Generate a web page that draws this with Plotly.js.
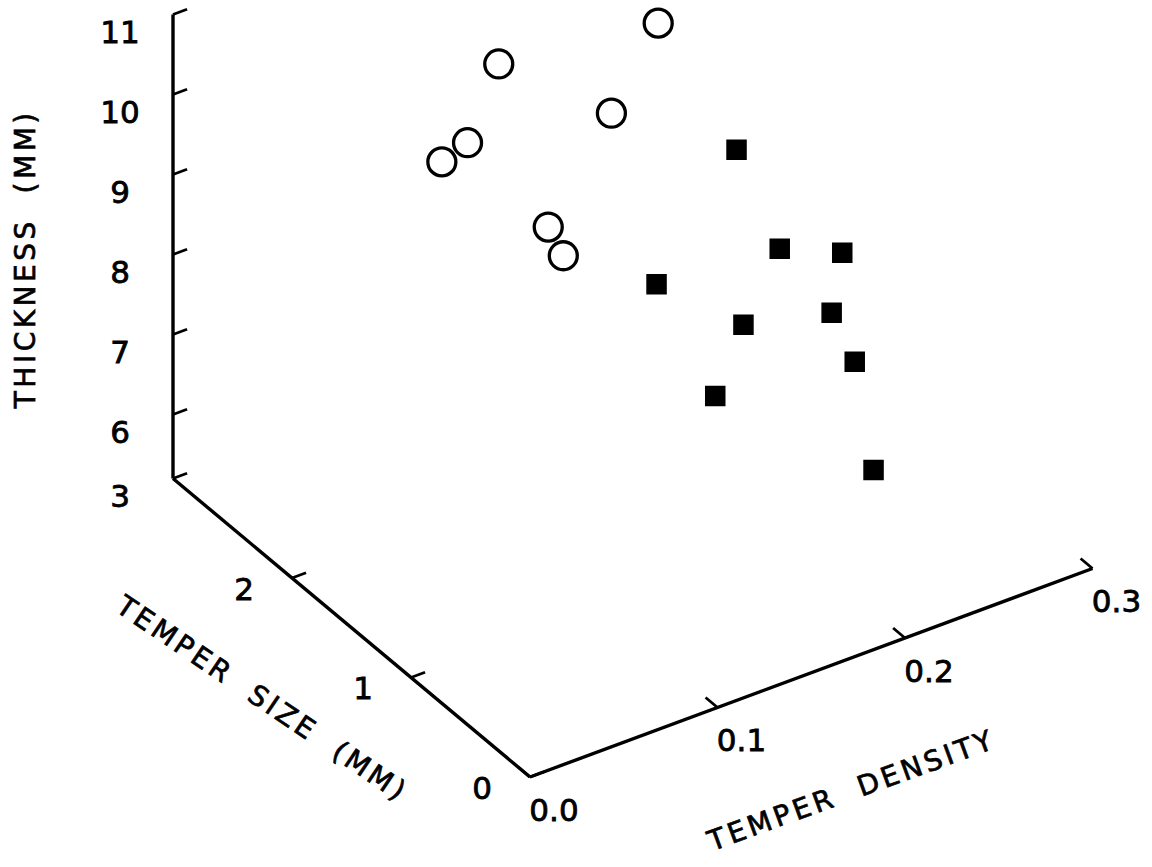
<!DOCTYPE html>
<html>
<head>
<meta charset="utf-8">
<script src="https://cdn.plot.ly/plotly-3.0.1.min.js"></script>
<style>
  html, body { margin: 0; padding: 0; background: #ffffff; }
  #chart { width: 1152px; height: 867px; }
  g.annotation text { letter-spacing: 3.5px; stroke: #000; stroke-width: 0.7px; }
  g.textpoint text { stroke: #000; stroke-width: 0.8px; }
</style>
</head>
<body>
<div id="chart"></div>
<script>
// ---------------- data ----------------
// open circles
const circleDensity   = [0.208, 0.142, 0.164, 0.119, 0.118, 0.143, 0.132];
const circleSize      = [2.2, 2.5, 1.9, 2.4, 2.6, 2.1, 1.8];
const circleThickness = [10.08, 9.77, 9.71, 9.11, 8.63, 8.22, 8.33];
// filled squares
const squareDensity   = [0.199, 0.203, 0.230, 0.150, 0.190, 0.218, 0.243, 0.194, 0.234];
const squareSize      = [1.4, 1.1, 1.0, 1.3, 1.2, 0.9, 1.1, 1.5, 0.8];
const squareThickness = [9.57, 8.67, 8.51, 8.44, 7.71, 7.99, 6.91, 6.41, 6.01];

// axes
const densityRange   = [0, 0.3];
const sizeRange      = [0, 3];
const thicknessRange = [5.2, 11];   // broken axis: base labelled "3"
const densityTicks      = [0, 0.1, 0.2, 0.3];
const densityTickText   = ['0.0', '0.1', '0.2', '0.3'];
const sizeTicks         = [0, 1, 2];
const sizeTickText      = ['0', '1', '2'];
const thicknessTicks    = [5.2, 6, 7, 8, 9, 10, 11];
const thicknessTickText = ['3', '6', '7', '8', '9', '10', '11'];

const titles = {
  thickness: 'THICKNESS  (MM)',
  size: 'TEMPER  SIZE  (MM)',
  density: 'TEMPER  DENSITY'
};

// ---------------- oblique projection (layout) ----------------
const VIEW = {
  origin: [530, 777],      // pixel of (density 0, size 0, thickness base)
  d: [1875, -695],         // pixels per unit density
  s: [-119, -99.5],        // pixels per unit size
  t: [0, -80]              // pixels per unit thickness
};
function proj(d, s, t) {
  const dt = t - thicknessRange[0];
  return [
    VIEW.origin[0] + d * VIEW.d[0] + s * VIEW.s[0] + dt * VIEW.t[0],
    VIEW.origin[1] + d * VIEW.d[1] + s * VIEW.s[1] + dt * VIEW.t[1]
  ];
}
function projMany(D, S, T) {
  const xs = [], ys = [];
  for (let i = 0; i < D.length; i++) {
    const p = proj(D[i], S[i], T[i]);
    xs.push(p[0]); ys.push(p[1]);
  }
  return {x: xs, y: ys};
}

const FONT = 'DejaVu Sans, Liberation Sans, Arial, sans-serif';
const tickLenD = 0.0075;   // tick length along density (for thickness & size axes)
const tickLenS = 0.1;      // tick length along size (for density axis)

const d0 = densityRange[0], s0 = sizeRange[0], t0 = thicknessRange[0];
const sMax = sizeRange[1];

// axis lines
const axisX = [], axisY = [];
function seg(a, b) {
  axisX.push(a[0], b[0], null);
  axisY.push(a[1], b[1], null);
}
seg(proj(d0, sMax, thicknessRange[0]), proj(d0, sMax, thicknessRange[1]));  // thickness
seg(proj(d0, sMax, t0), proj(d0, s0, t0));                                  // size
seg(proj(d0, s0, t0), proj(densityRange[1], s0, t0));                       // density

// ticks
const tickX = [], tickY = [];
function tseg(a, b) { tickX.push(a[0], b[0], null); tickY.push(a[1], b[1], null); }
thicknessTicks.forEach(v => tseg(proj(d0, sMax, v), proj(d0 + tickLenD, sMax, v)));
sizeTicks.forEach(v => tseg(proj(d0, v, t0), proj(d0 + tickLenD, v, t0)));
densityTicks.forEach(v => tseg(proj(v, s0, t0), proj(v, s0 + tickLenS, t0)));

// tick labels (pixel offsets from tick position)
const LABEL_OFF = {thickness: [-53, 21], size: [-48, 14], density: [24, 36]};
const lblX = [], lblY = [], lblT = [];
thicknessTicks.forEach((v, i) => {
  const p = proj(d0, sMax, v);
  lblX.push(p[0] + LABEL_OFF.thickness[0]); lblY.push(p[1] + LABEL_OFF.thickness[1]); lblT.push(thicknessTickText[i]);
});
sizeTicks.forEach((v, i) => {
  const p = proj(d0, v, t0);
  lblX.push(p[0] + LABEL_OFF.size[0]); lblY.push(p[1] + LABEL_OFF.size[1]); lblT.push(sizeTickText[i]);
});
densityTicks.forEach((v, i) => {
  const p = proj(v, s0, t0);
  lblX.push(p[0] + LABEL_OFF.density[0]); lblY.push(p[1] + LABEL_OFF.density[1]); lblT.push(densityTickText[i]);
});

const circ = projMany(circleDensity, circleSize, circleThickness);
const sq = projMany(squareDensity, squareSize, squareThickness);

const traces = [
  {x: axisX, y: axisY, mode: 'lines', line: {color: '#000', width: 3.4}, hoverinfo: 'skip', showlegend: false},
  {x: tickX, y: tickY, mode: 'lines', line: {color: '#000', width: 2.8}, hoverinfo: 'skip', showlegend: false},
  {x: lblX, y: lblY, text: lblT, mode: 'text', textposition: 'middle center',
   textfont: {family: FONT, size: 31, color: '#000'}, hoverinfo: 'skip', showlegend: false, cliponaxis: false},
  {x: circ.x, y: circ.y, mode: 'markers', name: 'circles',
   marker: {symbol: 'circle-open', size: 28, color: '#000', line: {width: 3.3, color: '#000'}},
   showlegend: false, cliponaxis: false,
   customdata: circleDensity.map((d, i) => [d, circleSize[i], circleThickness[i]]),
   hovertemplate: 'density %{customdata[0]}<br>size %{customdata[1]}<br>thickness %{customdata[2]}<extra></extra>'},
  {x: sq.x, y: sq.y, mode: 'markers', name: 'squares',
   marker: {symbol: 'square', size: 19, color: '#000', line: {width: 1.5, color: '#000'}},
   showlegend: false, cliponaxis: false,
   customdata: squareDensity.map((d, i) => [d, squareSize[i], squareThickness[i]]),
   hovertemplate: 'density %{customdata[0]}<br>size %{customdata[1]}<br>thickness %{customdata[2]}<extra></extra>'}
];

const layout = {
  width: 1152, height: 867,
  margin: {l: 0, r: 0, t: 0, b: 0, pad: 0},
  paper_bgcolor: '#ffffff', plot_bgcolor: '#ffffff',
  xaxis: {range: [0, 1152], visible: false, fixedrange: true},
  yaxis: {range: [867, 0], visible: false, fixedrange: true},
  showlegend: false,
  annotations: [
    {text: titles.thickness, x: 25, y: 260, xref: 'x', yref: 'y', showarrow: false, textangle: -90,
     font: {family: FONT, size: 28, color: '#000'}},
    {text: titles.size, x: 262, y: 698, xref: 'x', yref: 'y', showarrow: false, textangle: 34,
     font: {family: FONT, size: 28, color: '#000'}},
    {text: titles.density, x: 851, y: 790, xref: 'x', yref: 'y', showarrow: false, textangle: -20,
     font: {family: FONT, size: 28, color: '#000'}}
  ]
};

Plotly.newPlot('chart', traces, layout, {displayModeBar: false, staticPlot: true});
</script>
</body>
</html>
